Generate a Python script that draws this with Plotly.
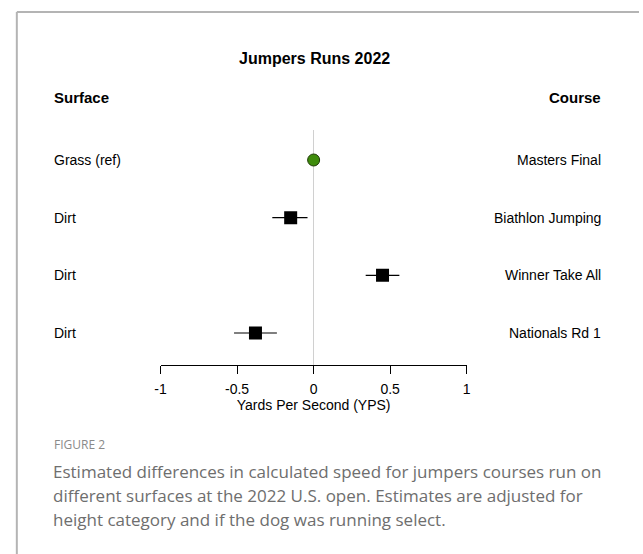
import plotly.graph_objects as go

# Forest-plot data: surface contrasts for jumpers courses (YPS)
surface = ["Grass (ref)", "Dirt", "Dirt", "Dirt"]
course = ["Masters Final", "Biathlon Jumping", "Winner Take All", "Nationals Rd 1"]
estimate = [0.0, -0.15, 0.45, -0.38]
ci_low = [0.0, -0.27, 0.34, -0.52]
ci_high = [0.0, -0.04, 0.56, -0.24]
x_ticks = [-1, -0.5, 0, 0.5, 1]
x_tick_text = ["-1", "-0.5", "0", "0.5", "1"]

caption_head = "FIGURE 2"
caption_lines = [
    "Estimated differences in calculated speed for jumpers courses run on",
    "different surfaces at the 2022 U.S. open. Estimates are adjusted for",
    "height category and if the dog was running select.",
]

W, H = 643, 554
FONT = "Liberation Sans, Arial, sans-serif"
CAP_FONT = "Open Sans, Lato, sans-serif"

n = len(surface)
ypos = [n - i for i in range(n)]  # top row first

fig = go.Figure()

# reference row (circle) vs. estimated rows (squares with CI bars)
ref_idx = [i for i in range(n) if surface[i].endswith("(ref)")]
est_idx = [i for i in range(n) if i not in ref_idx]

fig.add_trace(go.Scatter(
    x=[estimate[i] for i in est_idx],
    y=[ypos[i] for i in est_idx],
    mode="markers",
    marker=dict(symbol="square", size=13, color="black", line=dict(width=0)),
    error_x=dict(
        type="data", symmetric=False,
        array=[ci_high[i] - estimate[i] for i in est_idx],
        arrayminus=[estimate[i] - ci_low[i] for i in est_idx],
        width=0, thickness=1.2, color="black",
    ),
    showlegend=False, hoverinfo="skip",
))
fig.add_trace(go.Scatter(
    x=[estimate[i] for i in ref_idx],
    y=[ypos[i] for i in ref_idx],
    mode="markers",
    marker=dict(symbol="circle", size=12, color="#3f8c0c",
                line=dict(width=1, color="#1e3a06")),
    showlegend=False, hoverinfo="skip",
))

# row labels on both sides
for i in range(n):
    fig.add_annotation(x=47 / W, xref="paper", y=ypos[i], yref="y",
                       text=surface[i], showarrow=False, xanchor="left",
                       yanchor="middle", font=dict(family=FONT, size=14, color="black"))
    fig.add_annotation(x=606 / W, xref="paper", y=ypos[i], yref="y",
                       text=course[i], showarrow=False, xanchor="right",
                       yanchor="middle", font=dict(family=FONT, size=14, color="black"))

# title and column headers
fig.add_annotation(x=313 / W, y=1 - 58 / H, xref="paper", yref="paper",
                   text="<b>Jumpers Runs 2022</b>", showarrow=False,
                   xanchor="center", yanchor="middle",
                   font=dict(family=FONT, size=16, color="black"))
fig.add_annotation(x=47 / W, y=1 - 97 / H, xref="paper", yref="paper",
                   text="<b>Surface</b>", showarrow=False,
                   xanchor="left", yanchor="middle",
                   font=dict(family=FONT, size=15, color="black"))
fig.add_annotation(x=606 / W, y=1 - 97 / H, xref="paper", yref="paper",
                   text="<b>Course</b>", showarrow=False,
                   xanchor="right", yanchor="middle",
                   font=dict(family=FONT, size=15, color="black"))

# caption
fig.add_annotation(x=47 / W, y=1 - 444 / H, xref="paper", yref="paper",
                   text=caption_head, showarrow=False, xanchor="left",
                   yanchor="middle", font=dict(family=CAP_FONT, size=12, color="#8a8a8a"))
for k, line in enumerate(caption_lines):
    fig.add_annotation(x=46 / W, y=1 - (471 + 24 * k) / H, xref="paper", yref="paper",
                       text=line, showarrow=False, xanchor="left",
                       yanchor="middle", font=dict(family=CAP_FONT, size=17, color="#6e6e6e"))

# frame lines along top and left
fig.add_shape(type="line", xref="paper", yref="paper",
              x0=11 / W, x1=1, y0=1 - 12 / H, y1=1 - 12 / H,
              line=dict(color="#b4b4b4", width=2))
fig.add_shape(type="line", xref="paper", yref="paper",
              x0=11 / W, x1=11 / W, y0=0, y1=1 - 12 / H,
              line=dict(color="#b4b4b4", width=2))

y_top_px, y_bot_px = 130, 365
row_top_px, row_bot_px = 160, 333
px_per_unit = (row_bot_px - row_top_px) / (n - 1)
y_lo = 1 - (y_bot_px - row_bot_px) / px_per_unit
y_hi = n + (row_top_px - y_top_px) / px_per_unit

fig.update_layout(
    width=W, height=H,
    margin=dict(l=0, r=0, t=0, b=0),
    paper_bgcolor="white", plot_bgcolor="white",
    xaxis=dict(
        domain=[157 / W, 468 / W], range=[-1, 1],
        tickmode="array", tickvals=x_ticks, ticktext=x_tick_text,
        showline=True, linecolor="black", linewidth=1,
        ticks="outside", ticklen=8, tickwidth=1, tickcolor="black",
        ticklabelstandoff=3,
        showgrid=False,
        zeroline=True, zerolinecolor="#d0d0d0", zerolinewidth=1,
        tickfont=dict(family=FONT, size=14, color="black"),
        title=dict(text="Yards Per Second (YPS)", standoff=2,
                   font=dict(family=FONT, size=14, color="black")),
    ),
    yaxis=dict(
        domain=[1 - y_bot_px / H, 1 - y_top_px / H], range=[y_lo, y_hi],
        showline=False, showgrid=False, zeroline=False,
        showticklabels=False, ticks="",
    ),
)

fig.write_html("out.html")
